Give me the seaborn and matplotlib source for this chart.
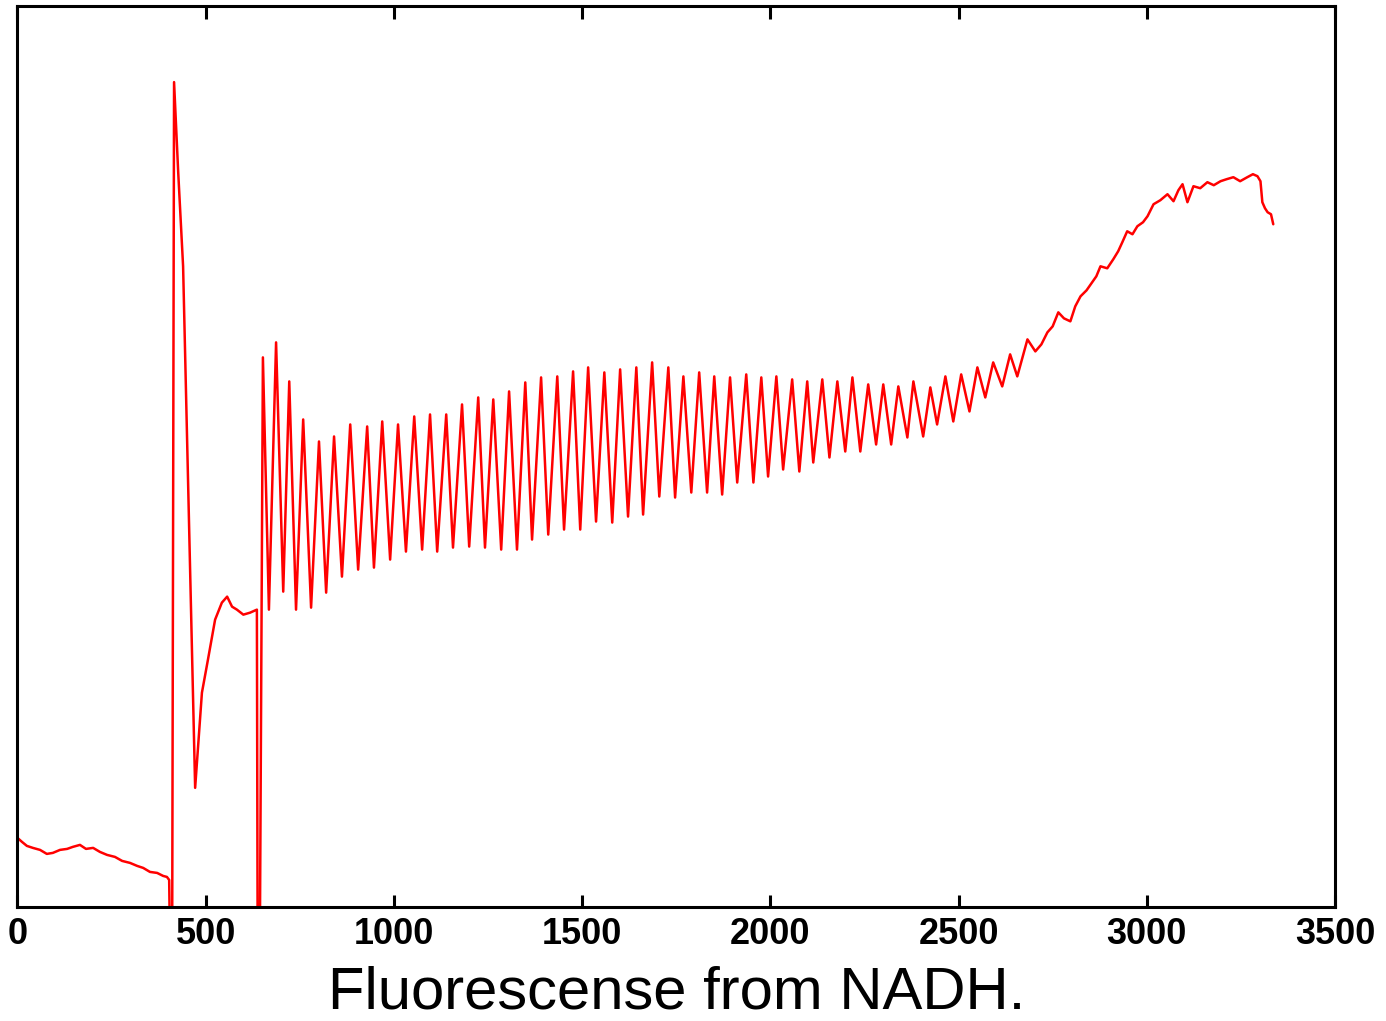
import numpy as np
import pandas as pd
import matplotlib
matplotlib.use("Agg")
import matplotlib.pyplot as plt
import seaborn as sns

# --- trace values (x: time, y: arbitrary fluorescence units) ---
baseline_x = [0, 12, 25, 41, 60, 78, 94, 113, 132, 147, 166, 182, 201, 219, 238,
              259, 278, 299, 318, 334, 352, 371, 387, 397, 403]
baseline_y = [69, 65, 61, 59, 57, 53, 54, 57, 58, 60, 62, 58, 59, 55, 52,
              50, 46, 44, 41, 39, 35, 34, 31, 30, 27]

# glucose addition spike and recovery
spike_x = [405, 411, 416, 427, 440, 472, 490, 506, 525, 543, 557, 570, 583, 600, 618, 636, 638, 644]
spike_y = [-30, -30, 824, 734, 640, 119, 214, 247, 287, 304, 310, 300, 297, 292, 294, 297, -30, -30]

# oscillations: alternating peaks and troughs
osc_x = [652, 668, 687, 706, 722, 740, 759, 780, 801, 820, 841, 862, 884, 905, 929, 947,
         969, 990, 1011, 1032, 1054, 1075, 1096, 1115, 1139, 1157, 1181, 1200, 1224, 1242,
         1264, 1285, 1306, 1327, 1349, 1367, 1391, 1410, 1434, 1452, 1476, 1495, 1516, 1537,
         1559, 1580, 1601, 1622, 1644, 1662, 1686, 1705, 1729, 1747, 1769, 1790, 1811, 1832,
         1851, 1872, 1893, 1912, 1936, 1955, 1976, 1994, 2016, 2034, 2058, 2077, 2098, 2114,
         2138, 2157, 2178, 2199, 2218, 2239, 2260, 2281, 2300, 2321, 2340, 2364, 2380, 2406,
         2425, 2443, 2465, 2486, 2507, 2529, 2550, 2571, 2592, 2616, 2637, 2656, 2683, 2704]
osc_y = [549, 297, 564, 315, 525, 297, 487, 299, 465, 314, 470, 330, 482, 337, 480, 339,
         485, 347, 482, 355, 490, 357, 492, 355, 492, 359, 502, 360, 509, 359,
         507, 357, 515, 357, 524, 367, 529, 372, 530, 377, 535, 377, 539, 385,
         534, 384, 537, 390, 539, 392, 544, 410, 539, 409, 530, 414, 534, 414,
         530, 412, 529, 424, 532, 424, 529, 430, 530, 437, 527, 435, 525, 444,
         527, 449, 525, 455, 529, 455, 522, 462, 522, 462, 520, 469, 525, 470,
         519, 482, 530, 485, 532, 495, 539, 509, 544, 520, 552, 530, 567, 555]

# late rise and plateau
rise_x = [2720, 2736, 2750, 2765, 2780, 2797, 2810, 2824, 2840, 2855, 2866, 2877, 2895, 2911,
          2924, 2935, 2948, 2962, 2975, 2990, 3002, 3018, 3036, 3055, 3071, 3084, 3095, 3108,
          3124, 3142, 3161, 3178, 3196, 3212, 3230, 3248, 3267, 3282, 3294, 3302, 3307, 3314,
          3321, 3330, 3336]
rise_y = [562, 574, 580, 594, 588, 585, 600, 610, 616, 624, 630, 640, 638, 647,
          655, 664, 675, 672, 680, 684, 690, 702, 706, 712, 705, 716, 722, 704,
          720, 718, 724, 721, 725, 727, 729, 725, 729, 732, 730, 725, 704, 698,
          694, 692, 682]

x = baseline_x + spike_x + osc_x + rise_x
y = baseline_y + spike_y + osc_y + rise_y
df = pd.DataFrame({"time": x, "signal": y})

sns.set_style("white")
plt.rcParams["font.family"] = ["Liberation Sans", "DejaVu Sans"]
plt.rcParams["text.color"] = "black"
plt.rcParams["axes.labelcolor"] = "black"
plt.rcParams["xtick.color"] = "black"

fig = plt.figure(figsize=(13.86, 10.21), dpi=100)
ax = fig.add_axes([0.0126, 0.1117, 0.9506, 0.8824])

sns.lineplot(data=df, x="time", y="signal", ax=ax, color="#ff0000", linewidth=1.8,
             sort=False, estimator=None)

ax.set_xlim(0, 3500)
ax.set_ylim(0, 900)
ax.set_xticks(np.arange(0, 3501, 500))
ax.set_yticks([])
ax.set_ylabel("")
ax.set_xlabel("Fluorescense from NADH.", fontsize=43, labelpad=10, color="black")
ax.tick_params(axis="x", direction="in", length=9, width=2.2, top=True, bottom=True,
               labelsize=26, pad=7, colors="black")
for lab in ax.get_xticklabels():
    lab.set_fontweight("bold")
for s in ax.spines.values():
    s.set_linewidth(2.2)
    s.set_color("black")

fig.savefig("out.png", dpi=100)
